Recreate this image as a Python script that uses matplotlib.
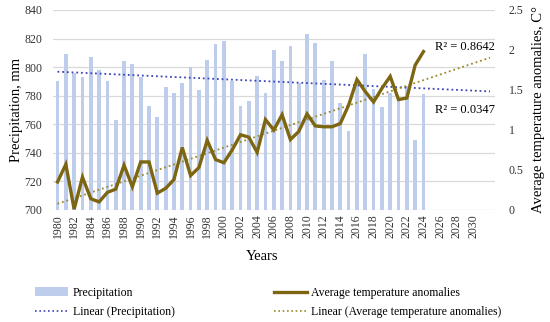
import numpy as np
import matplotlib
matplotlib.use("Agg")
from matplotlib import pyplot as plt
from matplotlib.patches import Patch
from matplotlib.lines import Line2D

years = list(range(1980, 2025))

precipitation = [790, 809, 796, 793, 807, 798, 790, 763, 804, 802,
                 793, 773, 765, 786, 782, 789, 800, 784, 805, 816,
                 818, 790, 773, 776, 794, 782, 812, 804, 815, 789,
                 823, 817, 791, 804, 775, 755, 788, 809, 785, 772,
                 782, 777, 787, 749, 781]

temp_anomalies = [0.35, 0.57, 0.01, 0.41, 0.14, 0.10, 0.22, 0.26, 0.56, 0.29,
                  0.60, 0.60, 0.21, 0.27, 0.38, 0.78, 0.43, 0.53, 0.87, 0.63,
                  0.59, 0.75, 0.94, 0.91, 0.72, 1.13, 1.00, 1.19, 0.88, 0.98,
                  1.20, 1.05, 1.04, 1.04, 1.08, 1.31, 1.63, 1.48, 1.35, 1.52,
                  1.67, 1.38, 1.40, 1.81, 1.98]

tick_years = list(range(1980, 2031, 2))
r2_temp = 'R² = 0.8642'
r2_prec = 'R² = 0.0347'

plt.rcParams['font.family'] = ['Liberation Serif', 'DejaVu Serif']

bar_color = '#bfcdec'
line_color = '#7d6612'
prec_trend_color = '#3d46b8'
temp_trend_color = '#9a8a2a'

fig = plt.figure(figsize=(5.5, 3.22), dpi=100)
ax = fig.add_axes([0.097, 0.348, 0.803, 0.621])
ax2 = ax.twinx()

x = np.array(years)
ax.bar(x, precipitation, width=0.45, color=bar_color, zorder=2)
ax.set_ylim(700, 840)
ax.set_yticks(range(700, 841, 20))
ax.set_xlim(1979.5, 2032.6)
ax.set_xticks(tick_years)
ax.set_xticklabels([str(t) for t in tick_years], rotation=90, fontsize=8.5)
ax.grid(axis='y', color='#d9d9d9', linewidth=0.9, zorder=0)
ax.set_axisbelow(True)
ax.tick_params(axis='both', length=0, labelsize=8.5, colors='#333333')
ax.tick_params(axis='y', pad=8)
ax.tick_params(axis='x', pad=3)
for s in ax.spines.values():
    s.set_visible(False)
for s in ax2.spines.values():
    s.set_visible(False)
ax.set_xlabel('Years', fontsize=10.5, labelpad=10)
ax.xaxis.set_label_coords(0.473, -0.2)
ax.set_ylabel('Precipitation, mm', fontsize=10.5, labelpad=1)

# trend lines fitted on the data, projected forward
xt = np.arange(1980, 2033)
p_prec = np.polyfit(x, precipitation, 1)
p_temp = np.polyfit(x, temp_anomalies, 1)
ax.plot(xt, np.polyval(p_prec, xt), linestyle=(0, (1, 1.6)), color=prec_trend_color,
        linewidth=1.3, zorder=3)

ax2.plot(x, temp_anomalies, color=line_color, linewidth=2.4, zorder=4,
         solid_joinstyle='miter')
ax2.plot(xt, np.polyval(p_temp, xt), linestyle=(0, (1, 1.6)), color=temp_trend_color,
         linewidth=1.3, zorder=3)
ax2.set_ylim(0, 2.5)
ax2.set_yticks([0, 0.5, 1, 1.5, 2, 2.5])
ax2.set_yticklabels(['0', '0.5', '1', '1.5', '2', '2.5'])
ax2.tick_params(axis='y', length=0, labelsize=8.5, colors='#333333', pad=10)
ax2.set_ylabel('Average temperature anomalies, C°', fontsize=10.5, rotation=90,
               labelpad=6)

ax2.text(2032.6, 2.04, r2_temp, fontsize=9, ha='right', va='center')
ax2.text(2032.6, 1.25, r2_prec, fontsize=9, ha='right', va='center')

handles = [Patch(facecolor=bar_color, edgecolor='none'),
           Line2D([], [], color=line_color, linewidth=2.4),
           Line2D([], [], color=prec_trend_color, linewidth=1.2, linestyle=(0, (1, 1.6))),
           Line2D([], [], color=temp_trend_color, linewidth=1.2, linestyle=(0, (1, 1.6)))]
labels = ['Precipitation', 'Average temperature anomalies',
          'Linear (Precipitation)', 'Linear (Average temperature anomalies)']
fig.legend([handles[0], handles[2], handles[1], handles[3]],
           [labels[0], labels[2], labels[1], labels[3]],
           ncol=2, loc='lower left', bbox_to_anchor=(0.044, -0.02), frameon=False,
           fontsize=8.5, handlelength=2.8, handletextpad=0.4, columnspacing=8.4,
           labelspacing=0.6)

fig.savefig('out.png', dpi=100)
